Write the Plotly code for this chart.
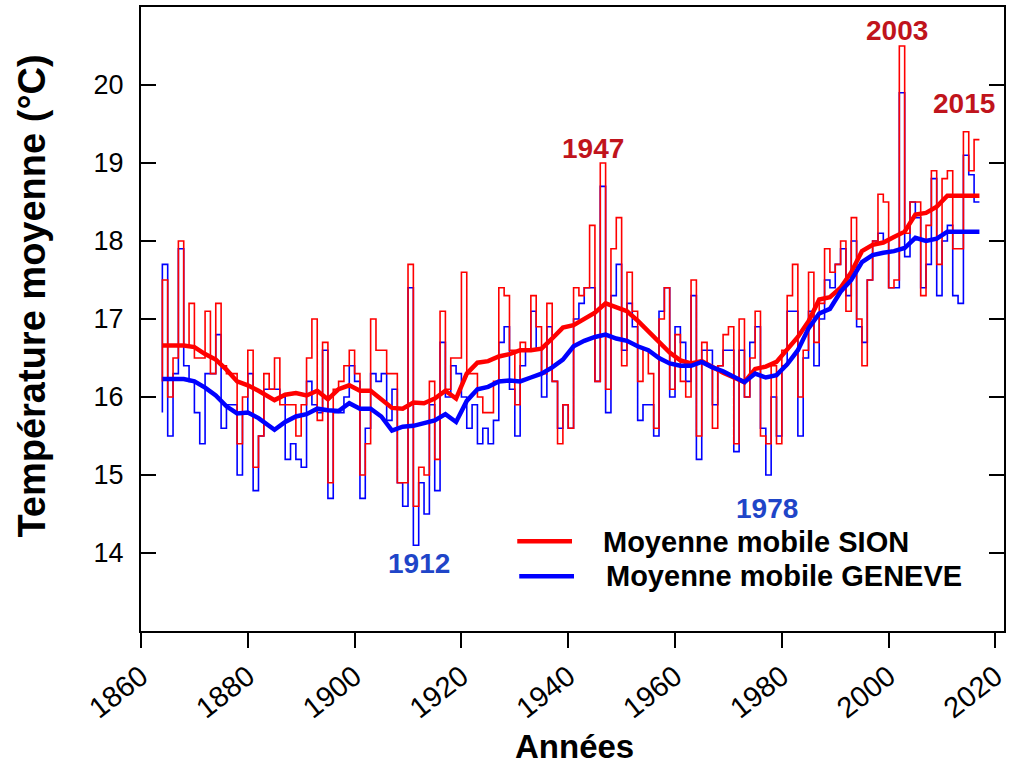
import plotly.graph_objects as go

# ---------------- data ----------------
years = list(range(1864, 2018))
sion = [16.2, 17.5, 16.0, 16.5, 18.0, 16.65, 17.2, 16.5, 16.5, 17.1, 16.3, 17.2, 16.4, 16.3, 16.3, 15.4, 16.0, 16.6, 15.1, 15.5, 16.3,
        16.1, 16.5, 15.9, 15.9, 15.9, 15.5, 15.9, 16.5, 17.0, 15.7, 16.7, 14.9, 16.1, 16.2, 16.4, 16.6, 16.3, 15.0, 15.4, 17.0, 16.6, 16.6, 16.3, 16.3,
        14.9, 14.9, 17.7, 14.6, 15.1, 15.0, 16.2, 15.2, 17.1, 16.1, 16.5, 16.5, 17.6, 16.3, 16.3, 16.0, 15.8, 15.8, 16.2, 17.4, 17.3, 16.6,
        15.9, 16.7, 16.6, 17.3, 16.9, 16.3, 17.2, 16.2, 15.4, 15.9, 15.6, 17.4, 17.3, 17.4, 18.2, 16.2, 19.0, 16.1, 17.9, 18.3, 16.4, 17.6, 17.1, 16.2,
        16.6, 16.3, 15.6, 17.0, 17.4, 16.1, 16.8, 16.2, 16.0, 17.5, 15.5, 16.7, 16.4, 15.6, 16.4, 16.8, 16.9, 15.4, 17.0, 16.0, 16.5, 17.1, 15.5,
        15.4, 16.4, 15.4, 16.6, 17.3, 17.7, 16.0, 16.6, 17.6, 16.7, 17.2, 17.9, 17.6, 17.7, 18.0, 17.1, 18.3, 17.0, 16.4, 17.5, 18.0, 18.6, 18.5,
        17.4, 17.5, 20.5, 18.1, 18.5, 18.5, 17.3, 18.2, 18.9, 17.7, 18.8, 18.9, 17.9, 17.9, 19.4, 18.9, 19.3]
geneve = [15.8, 17.7, 15.5, 16.3, 17.9, 16.4, 16.2, 15.8, 15.4, 16.3, 16.3, 16.8, 15.6, 15.9, 15.9, 15.0, 15.8, 16.3, 14.8, 15.5, 16.1,
          16.1, 16.1, 16.0, 15.2, 15.4, 15.2, 15.1, 16.2, 15.9, 15.8, 16.6, 14.7, 15.8, 15.8, 16.0, 16.4, 16.2, 14.7, 15.6, 16.3, 16.2, 16.3, 15.7, 16.1,
          14.9, 14.6, 17.4, 14.1, 14.9, 14.5, 15.9, 14.8, 16.7, 16.0, 16.4, 16.3, 16.0, 15.6, 15.9, 15.4, 15.6, 15.4, 15.7, 16.7, 16.9, 16.1,
          15.5, 16.4, 16.6, 17.1, 16.6, 16.0, 16.9, 16.2, 15.6, 15.9, 15.6, 17.0, 17.2, 17.4, 17.4, 16.2, 18.7, 15.8, 17.3, 17.7, 16.6, 17.2, 16.9, 15.7,
          15.9, 15.9, 15.5, 17.1, 17.4, 16.0, 16.9, 16.7, 16.2, 17.3, 15.2, 16.6, 16.6, 15.9, 16.4, 16.6, 16.6, 15.3, 16.6, 16.0, 16.7, 16.9, 15.6,
          15.0, 16.0, 15.5, 16.4, 17.1, 17.1, 15.5, 16.5, 17.1, 16.4, 17.0, 17.5, 17.4, 17.7, 17.9, 17.3, 18.0, 16.9, 16.7, 17.5, 18.0, 18.1, 18.0,
          17.4, 17.4, 19.9, 17.8, 18.5, 18.3, 17.4, 17.7, 18.8, 17.3, 18.0, 18.2, 17.3, 17.2, 19.1, 18.85, 18.5]

ma_years = [1864, 1866, 1868, 1870, 1872, 1874, 1876, 1878, 1880, 1882] + list(range(1885, 2018, 2))
ma_sion = [16.66, 16.66, 16.66, 16.64, 16.55, 16.48, 16.35, 16.2, 16.15, 16.08,
           15.96, 16.03, 16.05, 16.02, 16.08, 15.97, 16.1, 16.15, 16.08, 16.08, 15.97, 15.86,
           15.85, 15.93, 15.92, 15.98, 16.08, 15.98, 16.3, 16.44, 16.46, 16.52, 16.55,
           16.6, 16.6, 16.62, 16.75, 16.89, 16.92, 17.0, 17.08, 17.2, 17.15, 17.1, 16.98,
           16.84, 16.72, 16.57, 16.47, 16.43, 16.46, 16.38, 16.31, 16.25, 16.19, 16.36, 16.39,
           16.45, 16.6, 16.77, 16.97, 17.25, 17.28, 17.4, 17.6, 17.87, 17.95, 17.98,
           18.05, 18.12, 18.34, 18.36, 18.44, 18.58, 18.58, 18.58, 18.58]
ma_geneve = [16.23, 16.23, 16.23, 16.2, 16.12, 16.02, 15.88, 15.79, 15.8, 15.73,
             15.58, 15.68, 15.75, 15.78, 15.85, 15.83, 15.82, 15.92, 15.85, 15.85, 15.75, 15.57,
             15.62, 15.63, 15.67, 15.7, 15.78, 15.68, 15.95, 16.1, 16.13, 16.2, 16.21,
             16.2, 16.25, 16.3, 16.38, 16.48, 16.65, 16.72, 16.77, 16.8, 16.75, 16.72, 16.65,
             16.6, 16.5, 16.43, 16.4, 16.4, 16.45, 16.38, 16.33, 16.26, 16.19, 16.3, 16.25,
             16.28, 16.42, 16.6, 16.88, 17.07, 17.13, 17.35, 17.5, 17.73, 17.82, 17.85,
             17.87, 17.91, 18.04, 18.0, 18.03, 18.12, 18.12, 18.12, 18.12]

x_ticks = [1860, 1880, 1900, 1920, 1940, 1960, 1980, 2000, 2020]
y_ticks = [14, 15, 16, 17, 18, 19, 20]

legend_labels = ["Moyenne mobile SION", "Moyenne mobile GENEVE"]

# ---------------- styles ----------------
RED = "#FF0000"
BLUE = "#0000FF"
DARKRED = "#C0141C"
LBLUE = "#1F45C8"
FONT = "Liberation Sans, Arial, sans-serif"

fig = go.Figure()
fig.add_trace(go.Scatter(x=years, y=geneve, mode="lines", line=dict(color=BLUE, width=1.6, shape="vh"),
                         showlegend=False, name="GENEVE"))
fig.add_trace(go.Scatter(x=years, y=sion, mode="lines", line=dict(color=RED, width=1.6, shape="vh"),
                         showlegend=False, name="SION"))
fig.add_trace(go.Scatter(x=ma_years, y=ma_sion, mode="lines", line=dict(color=RED, width=4.5),
                         showlegend=False, name=legend_labels[0]))
fig.add_trace(go.Scatter(x=ma_years, y=ma_geneve, mode="lines", line=dict(color=BLUE, width=4.5),
                         showlegend=False, name=legend_labels[1]))

W, H = 1013, 768
L, R, T, B = 141, 5, 5, 137
pw, ph = W - L - R, H - T - B


def px(xp):
    return (xp - L) / pw


def py(yp):
    return (H - B - yp) / ph


annotations = [
    dict(text="2003", x=2001.6, y=20.70, xref="x", yref="y", showarrow=False,
         font=dict(family=FONT, size=28, color=DARKRED, weight="bold")),
    dict(text="2015", x=2014.1, y=19.76, xref="x", yref="y", showarrow=False,
         font=dict(family=FONT, size=28, color=DARKRED, weight="bold")),
    dict(text="1947", x=1944.7, y=19.18, xref="x", yref="y", showarrow=False,
         font=dict(family=FONT, size=28, color=DARKRED, weight="bold")),
    dict(text="1912", x=1912.1, y=13.87, xref="x", yref="y", showarrow=False,
         font=dict(family=FONT, size=28, color=LBLUE, weight="bold")),
    dict(text="1978", x=1977.3, y=14.57, xref="x", yref="y", showarrow=False,
         font=dict(family=FONT, size=28, color=LBLUE, weight="bold")),
    # legend texts
    dict(text=legend_labels[0], x=px(603), y=py(542), xref="paper", yref="paper", showarrow=False,
         xanchor="left", yanchor="middle", font=dict(family=FONT, size=29, color="black", weight="bold")),
    dict(text=legend_labels[1], x=px(606), y=py(576), xref="paper", yref="paper", showarrow=False,
         xanchor="left", yanchor="middle", font=dict(family=FONT, size=29, color="black", weight="bold")),
    # axis titles
    dict(text="Température moyenne (°C)", x=px(32), y=py(295), xref="paper", yref="paper", showarrow=False,
         textangle=-90, xanchor="center", yanchor="middle",
         font=dict(family=FONT, size=38, color="black", weight="bold")),
    dict(text="Années", x=px(577), y=py(747), xref="paper", yref="paper", showarrow=False,
         xanchor="center", yanchor="middle", font=dict(family=FONT, size=33, color="black", weight="bold")),
]

shapes = [
    dict(type="line", xref="paper", yref="paper", x0=px(519), x1=px(574), y0=py(541), y1=py(541),
         line=dict(color=RED, width=4.5)),
    dict(type="line", xref="paper", yref="paper", x0=px(521), x1=px(576), y0=py(576), y1=py(576),
         line=dict(color=BLUE, width=4.5)),
]

fig.update_layout(
    width=W, height=H,
    margin=dict(l=L, r=R, t=T, b=B, pad=0),
    paper_bgcolor="white", plot_bgcolor="white",
    showlegend=False,
    annotations=annotations, shapes=shapes,
    font=dict(family=FONT, color="black"),
)
fig.update_xaxes(range=[1860, 2021.6], tickvals=x_ticks, ticktext=[str(v) for v in x_ticks],
                 ticks="outside", ticklen=15, tickwidth=2, tickcolor="black",
                 showline=True, linecolor="black", linewidth=2, mirror=True,
                 showgrid=False, zeroline=False, tickangle=-38,
                 tickfont=dict(family=FONT, size=29, color="black"))
fig.update_yaxes(range=[13, 21], tickvals=y_ticks, ticktext=[str(v) for v in y_ticks],
                 ticks="inside", ticklen=15, tickwidth=2, tickcolor="black",
                 showline=True, linecolor="black", linewidth=2, mirror="ticks",
                 showgrid=False, zeroline=False, ticklabelstandoff=10,
                 tickfont=dict(family=FONT, size=27, color="black"))

fig.write_html("out.html", config={"displayModeBar": False},
               post_script="document.body.style.margin='0px';")
